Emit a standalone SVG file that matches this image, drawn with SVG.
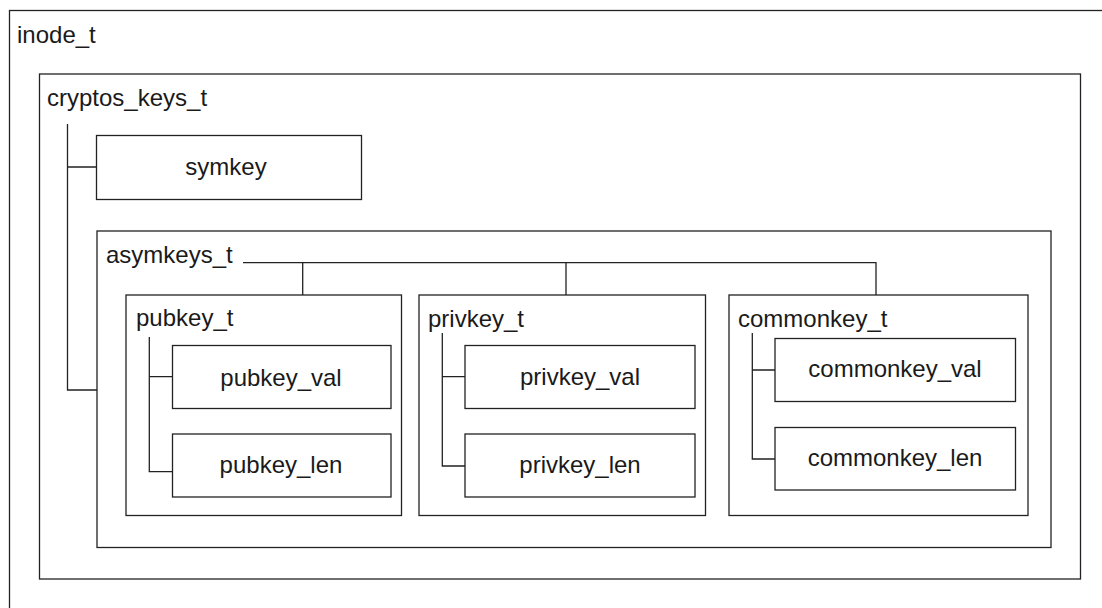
<svg xmlns="http://www.w3.org/2000/svg" width="1102" height="608" viewBox="0 0 1102 608">
<style>
rect{fill:none;stroke:#222;stroke-width:1.3}
.c path{fill:none;stroke:#222;stroke-width:1.3}
text{font-family:"Liberation Sans",Arial,sans-serif;font-size:24px;fill:#1a1a1a}
.m{text-anchor:middle}
</style>
<rect width="1102" height="608" style="fill:#fff;stroke:none"/>
<g id="inode_t"><rect x="9.5" y="10.5" width="1100" height="610"/><text x="17" y="43">inode_t</text></g>
<g id="cryptos_keys_t"><rect x="39.5" y="74" width="1041" height="505"/><text x="47" y="106">cryptos_keys_t</text></g>
<g id="symkey"><rect x="96.5" y="135.5" width="265" height="64"/><text class="m" x="226" y="175">symkey</text></g>
<g id="asymkeys_t"><rect x="97" y="231" width="954" height="316.5"/><text x="106" y="263">asymkeys_t</text></g>
<g id="pubkey_t"><rect x="126" y="295" width="275.5" height="220.5"/><text x="136" y="326">pubkey_t</text></g>
<g id="pubkey_val"><rect x="172.5" y="345.5" width="218.5" height="63"/><text class="m" x="281" y="386">pubkey_val</text></g>
<g id="pubkey_len"><rect x="172.5" y="434" width="218.5" height="63"/><text class="m" x="281" y="473">pubkey_len</text></g>
<g id="privkey_t"><rect x="419" y="295" width="286.5" height="220.5"/><text x="428" y="327">privkey_t</text></g>
<g id="privkey_val"><rect x="465" y="345.5" width="230" height="63"/><text class="m" x="580" y="385">privkey_val</text></g>
<g id="privkey_len"><rect x="465" y="434" width="230" height="63"/><text class="m" x="580" y="473">privkey_len</text></g>
<g id="commonkey_t"><rect x="729" y="295" width="299" height="220.5"/><text x="738" y="327">commonkey_t</text></g>
<g id="commonkey_val"><rect x="775" y="338.5" width="240.5" height="63"/><text class="m" x="895" y="377">commonkey_val</text></g>
<g id="commonkey_len"><rect x="775" y="427.5" width="240.5" height="62.5"/><text class="m" x="895" y="466">commonkey_len</text></g>
<g class="c" id="connectors">
<path d="M67.5 124V390H97M67.5 167H96.5"/>
<path d="M243 262.7H876V295M302.7 262.7V295M566 262.7V295"/>
<path d="M149.3 337V471.7H172.5M149.3 376.7H172.5"/>
<path d="M442.3 333V466H465M442.3 376.7H465"/>
<path d="M752.3 333V459H775M752.3 370H775"/>
</g>
</svg>
